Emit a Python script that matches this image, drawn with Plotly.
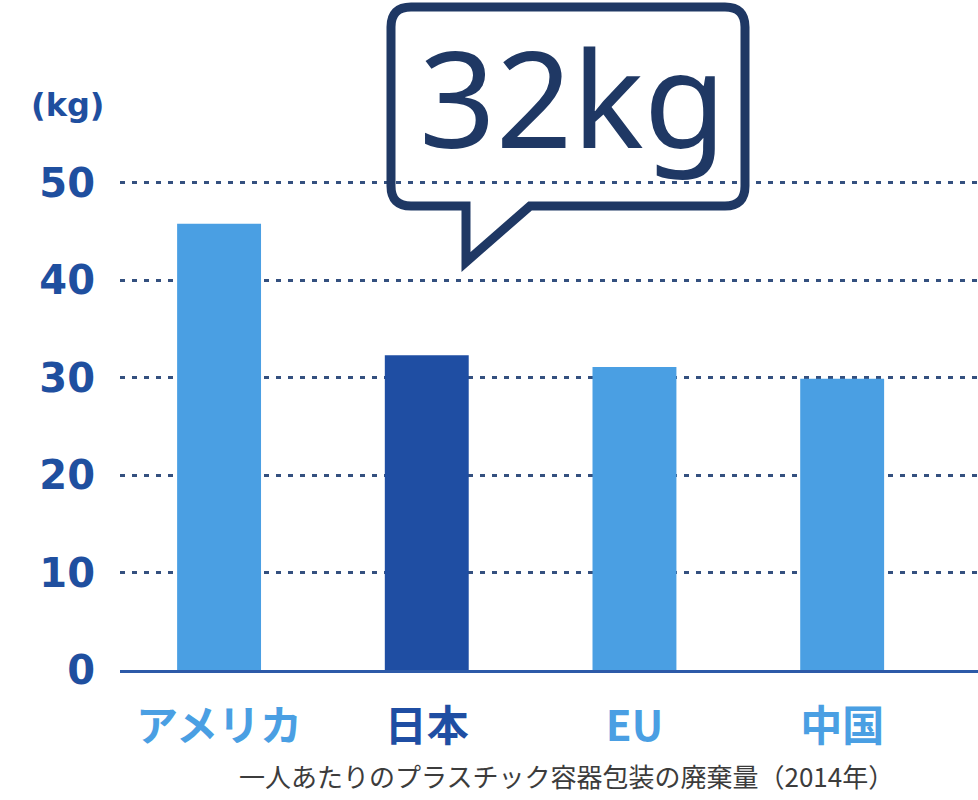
import plotly.graph_objects as go

categories = ["アメリカ", "日本", "EU", "中国"]
values = [45.8, 32.3, 31.1, 29.9]
highlight = "日本"
y_ticks = [0, 10, 20, 30, 40, 50]
unit_label = "(kg)"
callout_text = "32kg"
caption = "一人あたりのプラスチック容器包装の廃棄量（2014年）"

LIGHT = "#4a9fe3"
DARK = "#1f4ea3"
NAVY = "#1f3864"
TICK_BLUE = "#1f4f9f"

W, H = 978, 800
Y_TOP = 50.3
scale = (670 - 183) / 50.0
L = 120
R = 0
T = int(round(183 - (Y_TOP - 50) * scale))
B = 800 - 670
pw, ph = W - L - R, H - T - B

def px(x):
    return (x - L) / pw

def py(y):
    return (H - B - y) / ph

bar_colors = [DARK if c == highlight else LIGHT for c in categories]
ticktext = [f'<span style="color:{col}">{c}</span>' for c, col in zip(categories, bar_colors)]

fig = go.Figure()
fig.add_trace(go.Bar(
    x=list(range(len(categories))), y=values,
    marker=dict(color=bar_colors, line=dict(width=0)),
    width=0.404, hoverinfo="skip",
))

fig.update_layout(
    width=W, height=H,
    margin=dict(l=L, r=R, t=T, b=B, pad=0),
    paper_bgcolor="white", plot_bgcolor="white",
    showlegend=False,
    xaxis=dict(
        range=[-0.477, 3.654],
        tickvals=list(range(len(categories))), ticktext=ticktext,
        tickfont=dict(family="Noto Sans CJK JP, Lato", size=42, weight="bold"),
        showgrid=False, zeroline=False,
        showline=True, linecolor="#2d5aa8", linewidth=3,
        ticks="", ticklabelstandoff=18,
    ),
    yaxis=dict(
        range=[0, Y_TOP], tickvals=y_ticks,
        tickfont=dict(family="DejaVu Sans", size=40, weight="bold", color=TICK_BLUE),
        showgrid=True, gridcolor="#34507f", gridwidth=2.5, griddash="5px,7px",
        zeroline=False, showline=False, ticks="", ticklabelstandoff=24,
    ),
)

# unit label
fig.add_annotation(
    xref="paper", yref="paper", x=px(29), y=py(105), xanchor="left", yanchor="middle",
    text=unit_label, showarrow=False,
    font=dict(family="DejaVu Sans", size=32, weight="bold", color=TICK_BLUE),
)

# caption
fig.add_annotation(
    xref="paper", yref="paper", x=px(566), y=py(775), xanchor="center", yanchor="middle",
    text=caption, showarrow=False,
    font=dict(family="Noto Sans CJK JP", size=26, color="#3c3c3c"),
)

# speech bubble
def P(x, y):
    return f"{px(x):.5f},{py(y):.5f}"
r = 20
x0, x1, y0, y1 = 391, 745, 7, 206
path = (f"M {P(x0 + r, y0)} L {P(x1 - r, y0)} Q {P(x1, y0)} {P(x1, y0 + r)} "
        f"L {P(x1, y1 - r)} Q {P(x1, y1)} {P(x1 - r, y1)} "
        f"L {P(530, y1)} L {P(466, 262)} L {P(466, y1)} "
        f"L {P(x0 + r, y1)} Q {P(x0, y1)} {P(x0, y1 - r)} "
        f"L {P(x0, y0 + r)} Q {P(x0, y0)} {P(x0 + r, y0)} Z")
fig.add_shape(type="path", xref="paper", yref="paper", path=path,
              line=dict(color=NAVY, width=9), fillcolor="rgba(0,0,0,0)", layer="above")

fig.add_annotation(
    xref="paper", yref="paper", x=px(572), y=py(96), xanchor="center", yanchor="middle",
    text=callout_text, showarrow=False,
    font=dict(family="Noto Sans", size=134, color=NAVY),
)

fig.write_html("out.html", config={"displayModeBar": False},
               post_script="document.body.style.margin='0';")
